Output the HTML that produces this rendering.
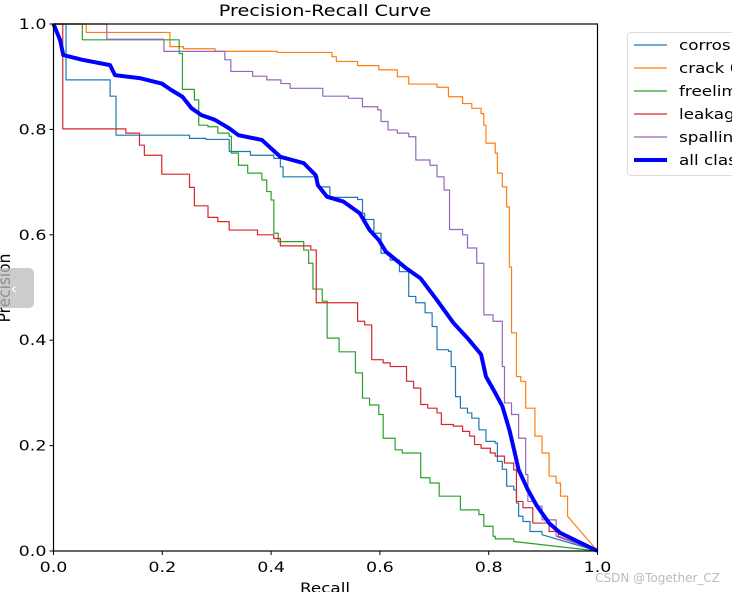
<!DOCTYPE html>
<html><head><meta charset="utf-8"><style>
html,body{margin:0;padding:0;background:#fff;width:732px;height:592px;overflow:hidden}
svg{display:block;font-family:"DejaVu Sans","Liberation Sans",sans-serif}
</style></head><body>
<svg id="chart" width="732" height="592" viewBox="0 0 732 592">
<text transform="translate(325,16) scale(1.2,1)" font-size="16" text-anchor="middle">Precision-Recall Curve</text>
<g id="series"></g>
<rect x="53.5" y="24" width="544" height="527" fill="none" stroke="#000" stroke-width="1.2"/>
<g id="xticks"></g>
<g id="yticks"></g>
<text transform="translate(325,593) scale(1.2,1)" font-size="14" text-anchor="middle">Recall</text>
<text transform="translate(10,288) rotate(-90) scale(1.1,1.2)" font-size="14" text-anchor="middle">Precision</text>
<g>
<rect x="627.5" y="32.5" width="120" height="143" rx="3" fill="#fff" stroke="#ddd"/>
<g id="legend"></g>
</g>
<rect x="-6" y="268" width="40" height="40" rx="5" fill="#bbb" fill-opacity="0.75"/>
<text x="14" y="294" font-size="16" fill="#fff" text-anchor="middle">‹</text>
<text x="720" y="582" font-size="12" fill="#bbb" text-anchor="end">CSDN @Together_CZ</text>
</svg>
<script>
const xTicks=[0,0.2,0.4,0.6,0.8,1.0];
const yTicks=[0,0.2,0.4,0.6,0.8,1.0];
const corrosionR=[0,.023,.104,.115,.250,.280,.323,.362,.405,.417,.422,.477,.486,.508,.559,.568,.572,.589,.602,.619,.636,.653,.666,.683,.696,.705,.726,.731,.739,.748,.761,.769,.782,.795,.812,.816,.825,.833,.846,.851,.855,.863,.876,.898];
const corrosionP=[1,.894,.863,.789,.783,.781,.758,.751,.745,.729,.710,.710,.691,.671,.667,.641,.629,.603,.565,.552,.530,.483,.471,.452,.426,.382,.379,.350,.293,.271,.262,.252,.230,.208,.205,.170,.155,.123,.116,.091,.066,.056,.037,.031];
const crackR=[0,.06,.214,.239,.297,.411,.512,.520,.559,.598,.632,.653,.705,.726,.752,.769,.786,.791,.795,.812,.816,.825,.833,.838,.842,.851,.859,.868,.885,.898,.911,.924,.932,.945];
const crackP=[1,.984,.957,.953,.948,.946,.938,.929,.921,.913,.900,.886,.880,.862,.849,.840,.830,.808,.774,.755,.717,.691,.653,.539,.414,.331,.322,.271,.218,.186,.142,.129,.104,.066];
const freelimeR=[0,.053,.231,.237,.259,.267,.284,.302,.323,.327,.340,.357,.383,.392,.400,.405,.413,.460,.469,.477,.494,.503,.525,.555,.568,.581,.598,.606,.628,.641,.675,.692,.709,.748,.782,.791,.808,.812,.846];
const freelimeP=[1,.970,.944,.876,.856,.808,.805,.793,.787,.755,.732,.717,.704,.682,.666,.603,.587,.571,.546,.497,.474,.404,.378,.338,.290,.277,.259,.214,.192,.186,.139,.129,.104,.078,.069,.047,.028,.023,.018];
const leakageR=[0,.017,.133,.158,.167,.199,.250,.259,.284,.302,.323,.375,.405,.417,.473,.483,.559,.572,.585,.606,.619,.649,.662,.675,.688,.705,.713,.735,.752,.765,.774,.786,.803,.812,.829,.846,.851,.863,.881,.911,.928];
const leakageP=[1,.801,.793,.770,.751,.715,.690,.655,.633,.625,.609,.600,.593,.579,.571,.471,.436,.429,.363,.357,.350,.322,.309,.278,.271,.262,.240,.237,.227,.218,.202,.195,.186,.180,.167,.154,.094,.082,.053,.037,.028];
const spallingR=[0,.098,.203,.315,.326,.366,.392,.418,.435,.495,.542,.568,.596,.602,.615,.632,.653,.666,.692,.705,.718,.728,.752,.761,.778,.791,.808,.825,.829,.842,.855,.868,.872,.885,.898,.924];
const spallingP=[1,.971,.948,.932,.910,.901,.894,.887,.878,.863,.859,.843,.837,.815,.799,.793,.786,.742,.732,.710,.685,.610,.600,.575,.546,.448,.436,.350,.281,.259,.214,.145,.094,.085,.059,.028];
const allR=[0,.012,.018,.053,.104,.113,.160,.199,.216,.237,.254,.272,.297,.323,.340,.383,.400,.417,.460,.482,.486,.503,.533,.563,.581,.598,.611,.649,.675,.705,.735,.761,.786,.795,.812,.825,.838,.846,.855,.872,.889,.911,.932];
const allP=[1,.97,.941,.932,.922,.903,.897,.887,.875,.862,.840,.827,.818,.802,.789,.780,.764,.748,.736,.713,.694,.672,.663,.641,.609,.590,.568,.536,.517,.476,.433,.404,.373,.331,.300,.275,.230,.195,.154,.116,.085,.053,.034];
const labels=["corrosion 0.602","crack 0.857","freelime 0.500","leakage 0.493","spalling 0.768","all classes 0.644 mAP@0.5"];

const NS="http://www.w3.org/2000/svg";
const X0=53.5,X1=597.5,Y0=551,Y1=24;
function sx(v){return X0+v*(X1-X0);}
function sy(v){return Y0-v*(Y0-Y1);}
function mk(tag,attrs,parent){const e=document.createElementNS(NS,tag);for(const k in attrs)e.setAttribute(k,attrs[k]);parent.appendChild(e);return e;}
const sg=document.getElementById('series');
const series=[
 {r:corrosionR,p:corrosionP,c:"#1f77b4",w:1.2,n:"corrosion-curve",step:true},
 {r:crackR,p:crackP,c:"#ff7f0e",w:1.2,n:"crack-curve",step:true},
 {r:freelimeR,p:freelimeP,c:"#2ca02c",w:1.2,n:"freelime-curve",step:true},
 {r:leakageR,p:leakageP,c:"#d62728",w:1.2,n:"leakage-curve",step:true},
 {r:spallingR,p:spallingP,c:"#9467bd",w:1.2,n:"spalling-curve",step:true},
 {r:allR,p:allP,c:"#0000ff",w:4,n:"all-classes-curve",step:false}];
series.forEach(s=>{
 let d="M"+sx(s.r[0])+","+sy(s.p[0]);
 for(let i=1;i<s.r.length;i++){
  if(s.step) d+=" L"+sx(s.r[i])+","+sy(s.p[i-1]);
  d+=" L"+sx(s.r[i])+","+sy(s.p[i]);
 }
 d+=" L"+sx(1)+","+sy(0);
 const el=mk('path',{d:d,fill:"none",stroke:s.c,"stroke-width":s.w,"stroke-linejoin":"round"},sg);
 
 
});
const xg=document.getElementById('xticks'),yg=document.getElementById('yticks');
xTicks.forEach(t=>{
 const l=mk('line',{x1:sx(t),x2:sx(t),y1:Y0,y2:Y0+4,stroke:"#000"},xg);
 
 
 const tx=mk('text',{transform:"translate("+sx(t)+","+(Y0+21)+") scale(1.25,1)","font-size":14,"text-anchor":"middle"},xg);
 tx.textContent=t.toFixed(1);
 
 
});
yTicks.forEach(t=>{
 const l=mk('line',{x1:X0-4,x2:X0,y1:sy(t),y2:sy(t),stroke:"#000"},yg);
 
 
 const tx=mk('text',{transform:"translate("+(X0-7)+","+(sy(t)+5)+") scale(1.25,1)","font-size":14,"text-anchor":"end"},yg);
 tx.textContent=t.toFixed(1);
 
 
});
const lg=document.getElementById('legend');
labels.forEach((lab,i)=>{
 const y=45+i*23;
 const l=mk('line',{x1:634,x2:667,y1:y,y2:y,stroke:series[i].c,"stroke-width":series[i].w},lg);
 
 
 const t=mk('text',{transform:"translate(679,"+(y+5)+") scale(1.2,1)","font-size":14},lg);
 t.textContent=lab;
 
 
});
</script>
</body></html>
